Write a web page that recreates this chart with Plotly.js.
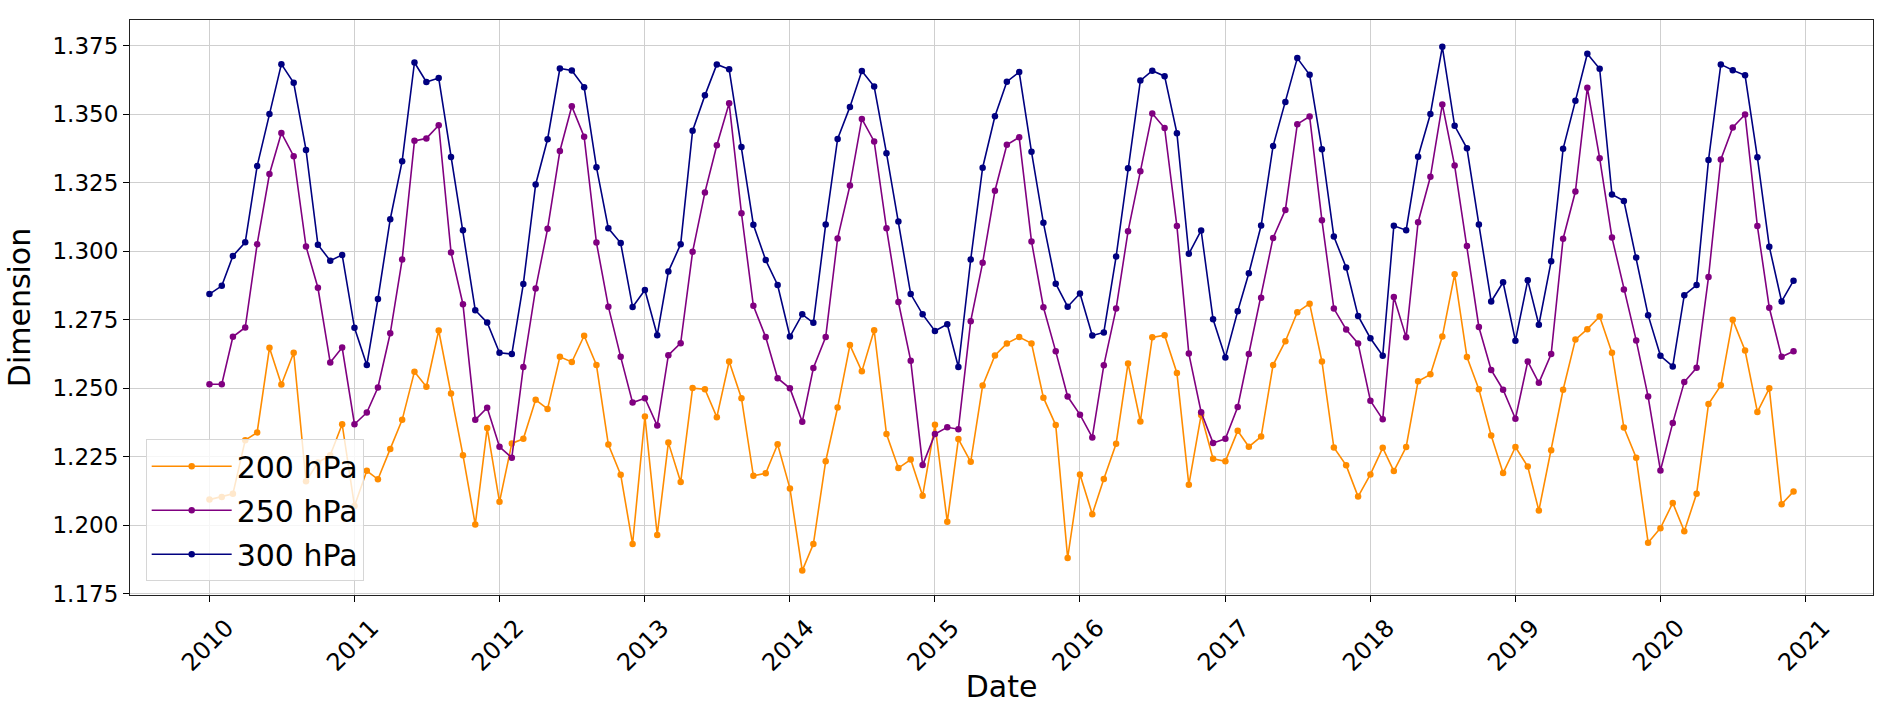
<!DOCTYPE html>
<html>
<head>
<meta charset="utf-8">
<script src="https://cdn.plot.ly/plotly-3.0.1.min.js"></script>
<style>html,body{margin:0;padding:0;background:#fff;}#chart{width:1892px;height:715px;}</style>
</head>
<body>
<div id="chart"></div>
<script>
// Monthly series, Jan 2010 .. Dec 2020
const startYear = 2010;
const nMonths = 132;
const seriesNames = ["200 hPa", "250 hPa", "300 hPa"];
const seriesColors = ["#FF8C00", "#800080", "#000080"];

const s200 = [
  1.2093,1.2103,1.2114,1.2310,1.2338,1.2647,1.2513,1.2629,1.2160,1.2228,1.2255,1.2368,
  1.2070,1.2198,1.2167,1.2278,1.2384,1.2560,1.2505,1.2710,1.2480,1.2255,1.2002,1.2354,
  1.2085,1.2298,1.2315,1.2457,1.2424,1.2614,1.2595,1.2691,1.2584,1.2294,1.2184,1.1931,
  1.2396,1.1964,1.2301,1.2157,1.2500,1.2496,1.2394,1.2597,1.2463,1.2180,1.2189,1.2295,
  1.2134,1.1834,1.1931,1.2233,1.2429,1.2657,1.2561,1.2711,1.2332,1.2208,1.2239,1.2107,
  1.2366,1.2012,1.2314,1.2231,1.2509,1.2619,1.2663,1.2686,1.2663,1.2465,1.2365,1.1880,
  1.2185,1.2040,1.2168,1.2297,1.2590,1.2378,1.2685,1.2693,1.2555,1.2147,1.2402,1.2242,
  1.2233,1.2344,1.2286,1.2323,1.2584,1.2671,1.2777,1.2808,1.2597,1.2283,1.2218,1.2104,
  1.2185,1.2282,1.2197,1.2285,1.2525,1.2550,1.2688,1.2915,1.2613,1.2496,1.2327,1.2190,
  1.2285,1.2214,1.2053,1.2273,1.2494,1.2677,1.2715,1.2761,1.2629,1.2356,1.2246,1.1936,
  1.1989,1.2081,1.1978,1.2114,1.2442,1.2510,1.2749,1.2637,1.2413,1.2499,1.2076,1.2123
];
const s250 = [
  1.2514,1.2514,1.2687,1.2721,1.3025,1.3281,1.3431,1.3346,1.3017,1.2866,1.2593,1.2648,
  1.2368,1.2411,1.2502,1.2700,1.2969,1.3402,1.3411,1.3459,1.2995,1.2806,1.2384,1.2428,
  1.2286,1.2246,1.2577,1.2863,1.3081,1.3365,1.3528,1.3417,1.3031,1.2797,1.2614,1.2447,
  1.2463,1.2363,1.2620,1.2664,1.2997,1.3214,1.3386,1.3539,1.3138,1.2800,1.2686,1.2536,
  1.2499,1.2377,1.2573,1.2686,1.3046,1.3239,1.3482,1.3400,1.3083,1.2814,1.2600,1.2219,
  1.2332,1.2357,1.2350,1.2744,1.2957,1.3220,1.3388,1.3415,1.3035,1.2795,1.2634,1.2469,
  1.2403,1.2320,1.2583,1.2790,1.3072,1.3291,1.3502,1.3449,1.3091,1.2626,1.2412,1.2300,
  1.2315,1.2431,1.2624,1.2830,1.3048,1.3150,1.3463,1.3491,1.3112,1.2790,1.2714,1.2663,
  1.2454,1.2386,1.2832,1.2685,1.3105,1.3271,1.3535,1.3312,1.3018,1.2723,1.2566,1.2494,
  1.2388,1.2597,1.2519,1.2624,1.3045,1.3217,1.3596,1.3339,1.3049,1.2860,1.2674,1.2469,
  1.2199,1.2373,1.2522,1.2574,1.2905,1.3334,1.3451,1.3498,1.3091,1.2793,1.2614,1.2634
];
const s300 = [
  1.2843,1.2873,1.2982,1.3032,1.3310,1.3500,1.3682,1.3614,1.3369,1.3023,1.2965,1.2986,
  1.2720,1.2584,1.2825,1.3116,1.3328,1.3688,1.3617,1.3631,1.3343,1.3076,1.2784,1.2739,
  1.2629,1.2624,1.2880,1.3243,1.3408,1.3666,1.3659,1.3598,1.3306,1.3083,1.3029,1.2796,
  1.2858,1.2693,1.2925,1.3025,1.3439,1.3568,1.3681,1.3663,1.3380,1.3096,1.2967,1.2876,
  1.2688,1.2769,1.2738,1.3097,1.3409,1.3526,1.3657,1.3600,1.3357,1.3108,1.2843,1.2769,
  1.2708,1.2733,1.2577,1.2969,1.3304,1.3492,1.3618,1.3653,1.3362,1.3103,1.2881,1.2797,
  1.2845,1.2692,1.2703,1.2980,1.3302,1.3622,1.3658,1.3638,1.3430,1.2990,1.3075,1.2751,
  1.2612,1.2780,1.2919,1.3093,1.3383,1.3544,1.3704,1.3643,1.3371,1.3053,1.2940,1.2763,
  1.2682,1.2618,1.3092,1.3076,1.3344,1.3500,1.3745,1.3457,1.3375,1.3097,1.2816,1.2886,
  1.2673,1.2893,1.2731,1.2963,1.3373,1.3548,1.3720,1.3665,1.3206,1.3183,1.2976,1.2766,
  1.2618,1.2579,1.2839,1.2876,1.3332,1.3681,1.3660,1.3641,1.3342,1.3016,1.2816,1.2892
];

const dates = [];
for (let i = 0; i < nMonths; i++) {
  const y = startYear + Math.floor(i / 12);
  const m = (i % 12) + 1;
  dates.push(y + "-" + String(m).padStart(2, "0") + "-01");
}

const allSeries = [s200, s250, s300];
const traces = allSeries.map((vals, k) => ({
  type: "scatter",
  mode: "lines+markers",
  x: dates,
  y: vals,
  name: seriesNames[k],
  legendgroup: "g" + k,
  line: {color: seriesColors[k], width: 1.6},
  marker: {color: seriesColors[k], size: 6.5},
  hoverinfo: "x+y+name"
}));

const font = "DejaVu Sans, Liberation Sans, sans-serif";
const layout = {
  width: 1892,
  height: 715,
  margin: {l: 130, r: 19, t: 20, b: 120, pad: 0},
  paper_bgcolor: "#ffffff",
  plot_bgcolor: "#ffffff",
  font: {family: font, color: "#000000"},
  showlegend: true,
  legend: {
    x: 0.009, y: 0.024, xanchor: "left", yanchor: "bottom",
    bgcolor: "rgba(255,255,255,0.8)",
    bordercolor: "#d6d6d6", borderwidth: 1,
    font: {family: font, size: 30, color: "#000000"},
    tracegroupgap: 2,
    itemwidth: 80
  },
  xaxis: {
    type: "date",
    range: ["2009-06-15", "2021-06-19"],
    dtick: "M12",
    tick0: "2010-01-01",
    tickformat: "%Y",
    tickangle: -45,
    ticklabelshift: 17,
    ticklabelstandoff: 2,
    tickfont: {family: font, size: 24, color: "#000000"},
    ticks: "outside", ticklen: 6, tickwidth: 1, tickcolor: "#000000",
    showgrid: true, gridcolor: "#cfcfcf", gridwidth: 1,
    showline: true, linecolor: "#222222", linewidth: 1.2, mirror: true,
    zeroline: false,
    automargin: false,
    title: {text: "Date", font: {family: font, size: 30, color: "#000000"}, standoff: 0}
  },
  yaxis: {
    range: [1.1745, 1.3843],
    tick0: 1.175,
    dtick: 0.025,
    tickformat: ".3f",
    tickfont: {family: font, size: 23, color: "#000000"},
    ticks: "outside", ticklen: 6, tickwidth: 1, tickcolor: "#000000",
    showgrid: true, gridcolor: "#cfcfcf", gridwidth: 1,
    showline: true, linecolor: "#222222", linewidth: 1.2, mirror: true,
    zeroline: false,
    automargin: false,
    title: {text: "Dimension", font: {family: font, size: 30, color: "#000000"}, standoff: 12}
  }
};

Plotly.newPlot("chart", traces, layout, {displayModeBar: false, responsive: false});
</script>
</body>
</html>
